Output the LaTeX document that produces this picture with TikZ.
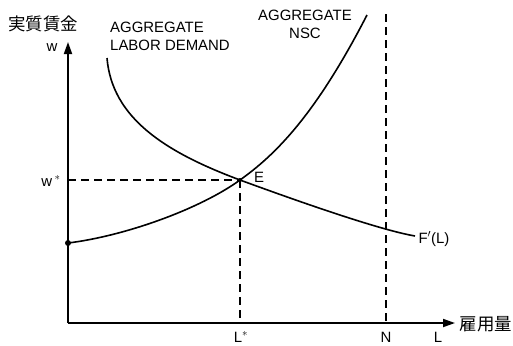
\documentclass[tikz,border=0pt]{standalone}
\usepackage{fontspec}
\setmainfont{Liberation Sans}
\newfontfamily\cjk{Noto Sans CJK JP}
\usetikzlibrary{arrows.meta}
\begin{document}
\begin{tikzpicture}[x=1bp,y=-1bp,
  axis/.style={line width=1.8bp,-{Triangle[length=12bp,width=8bp]}},
  curve/.style={line width=1.6bp},
  guide/.style={line width=1.4bp,dash pattern=on 8bp off 5bp},
  lbl/.style={font=\fontsize{15}{17}\selectfont,inner sep=0pt},
  jlbl/.style={font=\cjk\fontsize{17.5}{19}\selectfont,inner sep=0pt}]
\useasboundingbox (0,0) rectangle (513,345);
\coordinate (O) at (68,323);
\coordinate (Ytop) at (68,42);
\coordinate (Xend) at (455,323);
\coordinate (E) at (240,180);
\coordinate (Wst) at (68,180);
\coordinate (Lst) at (240,323);
\coordinate (Ntop) at (386,14);
\coordinate (Nbot) at (386,323);
\coordinate (S0) at (68,243);
\coordinate (S1) at (367,15);
\coordinate (D0) at (107,58);
\coordinate (D1) at (415,236);
% axes
\draw[axis] (O) -- (Ytop);
\draw[axis] (O) -- (Xend);
% guides
\draw[guide] (Wst) -- (E);
\draw[guide] (E) -- (Lst);
\draw[guide] (Ntop) -- (Nbot);
% demand curve
\draw[curve] (D0) .. controls (112,118) and (165,152) .. (E)
  .. controls (300,202) and (380,230) .. (D1);
% supply curve
\draw[curve] (S0) .. controls (125,236) and (200,209) .. (E)
  .. controls (275,155) and (315,116) .. (S1);
\fill (S0) circle (3bp);
\fill (E) circle (2bp);
% labels
\node[jlbl] (yj) at (43,24) {実質賃金};
\node[jlbl] (xj) at (486,324) {雇用量};
\node[lbl] (w) at (52,48) {w};
\node[lbl] (ws) at (51,181) {w\,$^*$};
\node[lbl] (Ls) at (241,337) {L$^*$};
\node[lbl] (N) at (386,337) {N};
\node[lbl] (L) at (438,337) {L};
\node[lbl] (Elab) at (259,177) {E};
\node[lbl] (FL) at (434,239) {F$'$(L)};
\node[lbl,anchor=west,align=left] (dem) at (110,36) {AGGREGATE\\[1bp]LABOR DEMAND};
\node[lbl,align=center] (nsc) at (305,24) {AGGREGATE\\[1bp]NSC};
\end{tikzpicture}
\end{document}
